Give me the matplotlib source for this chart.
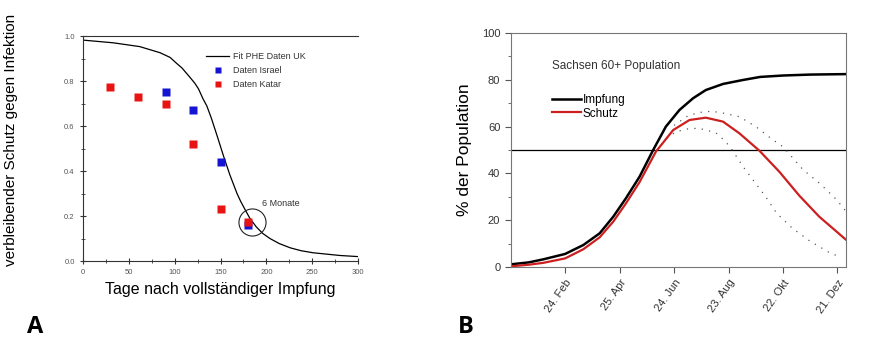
import matplotlib
matplotlib.use('Agg')
import numpy as np
from matplotlib import pyplot as plt

plt.rcParams['font.family'] = ['Liberation Sans', 'DejaVu Sans']

# --- panel A: remaining protection after full vaccination ---
fit_days = [0, 33, 62, 84, 95, 102, 108, 113, 118, 122, 126, 131, 135, 140, 146,
            153, 160, 168, 172, 177, 182, 189, 196, 204, 214, 226, 238, 251, 280, 300]
fit_uk = [0.982, 0.970, 0.953, 0.926, 0.905, 0.879, 0.858, 0.834, 0.81, 0.79,
          0.765, 0.72, 0.69, 0.635, 0.56, 0.47, 0.385, 0.30, 0.265, 0.227, 0.19,
          0.152, 0.123, 0.10, 0.078, 0.059, 0.046, 0.037, 0.025, 0.02]
israel_days = [90, 120, 150, 180]
israel_prot = [0.75, 0.67, 0.44, 0.16]
katar_days = [30, 60, 90, 120, 150, 180]
katar_prot = [0.775, 0.73, 0.70, 0.52, 0.23, 0.175]

# --- panel B: Saxony 60+ vaccination and protection (days from 26 Dec) ---
impf_days = [0, 20, 36, 60, 80, 98, 113, 127, 142, 157, 171, 186, 201, 215, 234,
             256, 275, 300, 330, 369]
impfung = [1.15, 2.0, 3.3, 5.6, 9.4, 14.4, 21.5, 29.4, 38.6, 50.0, 60.0, 67.1,
           72.1, 75.6, 78.2, 79.9, 81.2, 81.8, 82.2, 82.4]
schutz_days = [0, 20, 36, 60, 80, 98, 113, 127, 142, 160, 179, 197, 215, 234,
               252, 274, 296, 318, 340, 355, 369]
schutz = [0.3, 1.0, 1.8, 3.7, 7.6, 12.7, 19.4, 27.2, 36.3, 49.3, 58.5, 62.8,
          63.8, 62.1, 57.1, 49.7, 40.7, 30.5, 21.5, 16.5, 11.8]
upper_days = [180, 195, 207, 220, 230, 252, 270, 289, 300, 322, 340, 359, 369]
upper = [60.5, 64.5, 66.0, 66.5, 66.1, 64.2, 60.0, 54.3, 51.4, 41.6, 35.9, 28.8, 24.0]
lower_days = [172, 182, 195, 207, 226, 237, 244, 256, 267, 281, 293, 310, 330,
              352, 363]
lower = [55.0, 57.8, 59.0, 59.3, 57.4, 53.5, 50.0, 42.9, 37.2, 30.0, 23.0, 16.7,
         11.0, 6.0, 4.3]
tick_days = [60, 120, 180, 240, 300, 360]
tick_labels = ['24. Feb', '25. Apr', '24. Jun', '23. Aug', '22. Okt', '21. Dez']

fig = plt.figure(figsize=(8.79, 3.5), dpi=100)

axA = fig.add_axes([0.0944, 0.254, 0.313, 0.643])
axA.plot(fit_days, fit_uk, color='black', lw=0.9, label='Fit PHE Daten UK')
axA.plot(israel_days, israel_prot, 's', color='#1414d2', ms=6, mec='none',
         label='Daten Israel')
axA.plot(katar_days, katar_prot, 's', color='#e81414', ms=6, mec='none',
         label='Daten Katar')
axA.plot([184], [0.175], 'o', mfc='none', mec='#222222', ms=19.5, mew=0.8)
axA.text(195, 0.258, '6 Monate', fontsize=6.5, color='#333333', va='center')
axA.set_xlim(0, 300)
axA.set_ylim(0, 1.0)
axA.set_xticks(np.arange(0, 301, 50))
axA.set_xticks(np.arange(0, 301, 25), minor=True)
axA.set_yticks(np.arange(0, 1.01, 0.2))
axA.set_yticks(np.arange(0, 1.01, 0.1), minor=True)
axA.yaxis.set_major_formatter(plt.FormatStrFormatter('%.1f'))
axA.tick_params(which='both', direction='inout', labelsize=5.5, labelcolor='#555555',
                color='#333333')
axA.tick_params(which='major', length=5)
axA.tick_params(which='minor', length=3)
axA.spines['right'].set_visible(False)
for s in ['left', 'bottom', 'top']:
    axA.spines[s].set_color('#333333')
axA.set_xlabel('Tage nach vollständiger Impfung', fontsize=11.5)
axA.set_ylabel('verbleibender Schutz gegen Infektion', fontsize=11)
axA.yaxis.set_label_coords(-0.235, 0.54)
axA.legend(loc='upper left', bbox_to_anchor=(0.43, 0.95), frameon=False, fontsize=6.5,
           handlelength=2.6, handletextpad=0.4, labelspacing=0.55, markerscale=0.7,
           labelcolor='#333333', borderpad=0)

axB = fig.add_axes([0.581, 0.237, 0.381, 0.669])
axB.axhline(50, color='black', lw=0.9)
axB.plot(upper_days, upper, color='#555555', lw=0.9, ls=(0, (1, 5)))
axB.plot(lower_days, lower, color='#555555', lw=0.9, ls=(0, (1, 5)))
axB.plot(impf_days, impfung, color='black', lw=1.8, label='Impfung')
axB.plot(schutz_days, schutz, color='#cc1f1f', lw=1.6, label='Schutz')
axB.text(45, 86, 'Sachsen 60+ Population', fontsize=8.5, color='#333333', va='center')
axB.legend(loc='upper left', bbox_to_anchor=(0.105, 0.765), frameon=False, fontsize=8.5,
           handlelength=2.5, handletextpad=0.1, labelspacing=0.15, borderpad=0)
axB.set_xlim(0, 369)
axB.set_ylim(0, 100)
axB.set_xticks(tick_days)
axB.set_xticklabels(tick_labels, rotation=55, ha='right', rotation_mode='anchor')
axB.set_yticks(np.arange(0, 101, 20))
axB.set_yticks(np.arange(0, 101, 10), minor=True)
axB.tick_params(which='both', direction='out', labelsize=8, labelcolor='#333333',
                color='#555555')
axB.tick_params(which='major', length=4)
axB.tick_params(which='minor', length=2.5)
for s in axB.spines.values():
    s.set_color('#777777')
axB.set_ylabel('% der Population', fontsize=12.5)
axB.yaxis.set_label_coords(-0.116, 0.5)

fig.text(0.031, 0.049, 'A', fontsize=17, fontweight='bold', family='Open Sans')
fig.text(0.521, 0.049, 'B', fontsize=17, fontweight='bold', family='Open Sans')

fig.savefig('out.png', dpi=100)
